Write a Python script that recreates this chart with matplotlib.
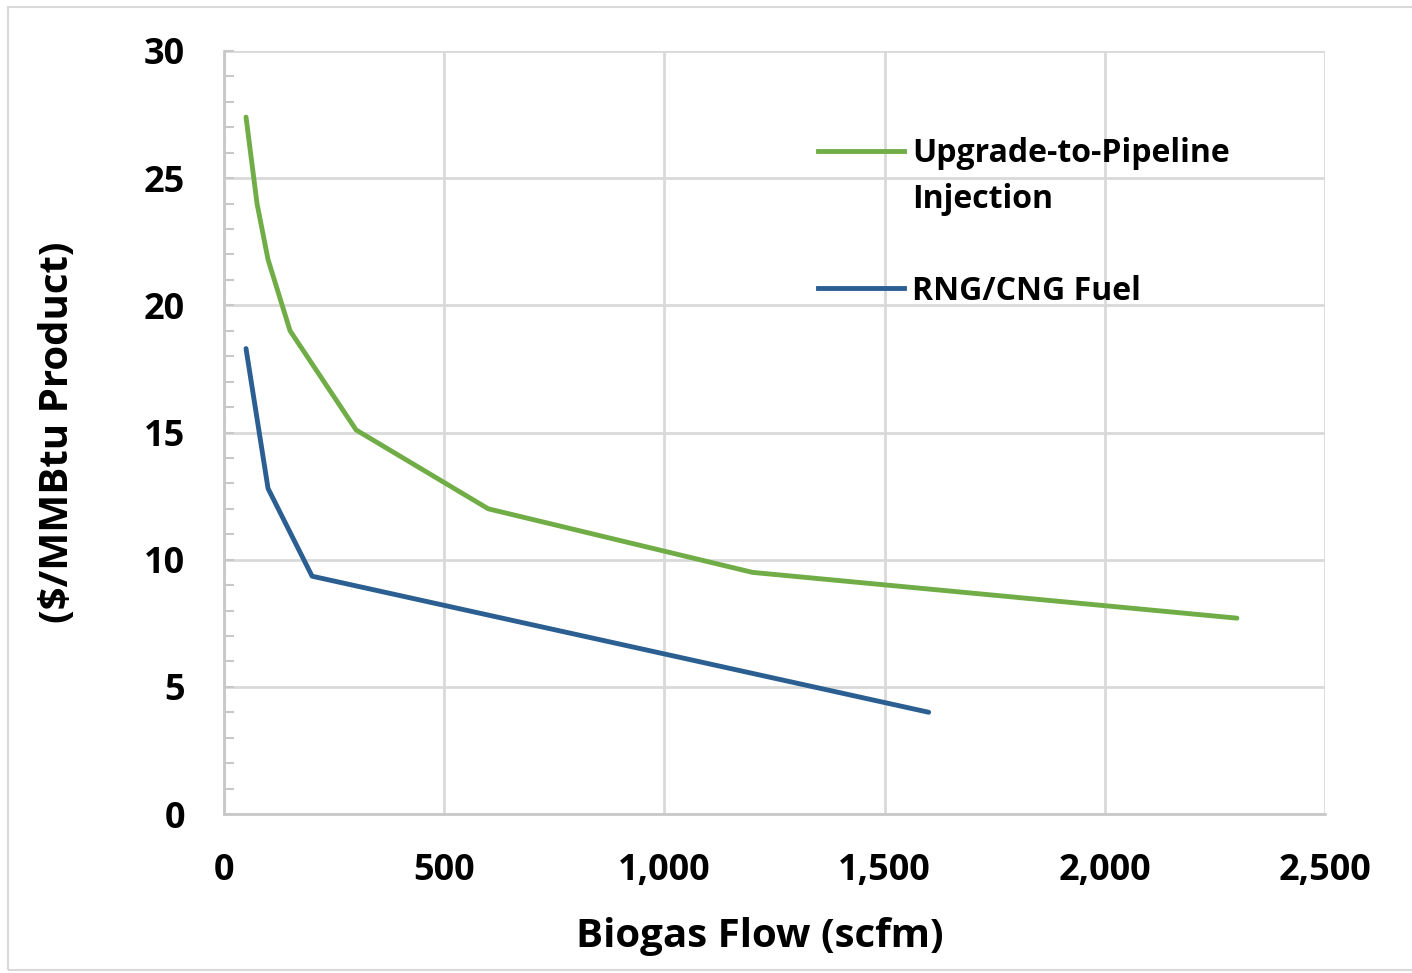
import numpy as np
import matplotlib.pyplot as plt
from matplotlib.lines import Line2D
from matplotlib.patches import Rectangle
from matplotlib.ticker import MultipleLocator, FuncFormatter

# data
pipe_x = [50, 75, 100, 150, 300, 600, 1200, 2300]
pipe_y = [27.4, 24.0, 21.8, 19.0, 15.1, 12.0, 9.5, 7.7]
rng_x = [50, 100, 200, 1600]
rng_y = [18.3, 12.8, 9.35, 4.0]

green = '#70AD47'
blue = '#2B5F91'
grid = '#D9D9D9'

plt.rcParams['font.family'] = ['Open Sans', 'DejaVu Sans']
plt.rcParams['font.weight'] = 'bold'

fig = plt.figure(figsize=(14.12, 9.73), dpi=100)
ax = fig.add_axes([224/1412, 1-814/973, (1325-224)/1412, (814-51)/973])

fig.patches.append(Rectangle((8/1412, 3/973), 1, 1-10/973, transform=fig.transFigure,
                             fill=False, edgecolor=grid, linewidth=1.5))

ax.plot(pipe_x, pipe_y, color=green, lw=3.5, solid_capstyle='round')
ax.plot(rng_x, rng_y, color=blue, lw=3.5, solid_capstyle='round')

ax.set_xlim(0, 2500)
ax.set_ylim(0, 30)
ax.xaxis.set_major_locator(MultipleLocator(500))
ax.yaxis.set_major_locator(MultipleLocator(5))
ax.yaxis.set_minor_locator(MultipleLocator(1))
ax.xaxis.set_major_formatter(FuncFormatter(lambda v, p: f'{v:,.0f}'))

ax.grid(True, which='major', color=grid, lw=2)
ax.set_axisbelow(True)
for s in ['top', 'right']:
    ax.spines[s].set_visible(False)
for s in ['left', 'bottom']:
    ax.spines[s].set_color('#C8C8C8')
    ax.spines[s].set_linewidth(2)

ax.tick_params(axis='x', length=0, pad=28, labelsize=26)
ax.tick_params(axis='y', which='major', direction='in', length=7, width=1.5,
               color='#C8C8C8', pad=28, labelsize=26)
ax.tick_params(axis='y', which='minor', direction='in', length=7, width=1.5,
               color='#C8C8C8')
for lab in ax.get_xticklabels() + ax.get_yticklabels():
    lab.set_fontweight('bold')

ax.set_xlabel('Biogas Flow (scfm)', fontsize=29, fontweight='bold', labelpad=20)
ax.xaxis.label.set_x(0.487)
ax.set_ylabel('($/MMBtu Product)', fontsize=29, fontweight='bold', labelpad=48)

handles = [Line2D([], [], color=green, lw=3.5),
           Line2D([], [], color='none'),
           Line2D([], [], color='none'),
           Line2D([], [], color=blue, lw=3.5)]
labels = ['Upgrade-to-Pipeline', 'Injection', ' ', 'RNG/CNG Fuel']
leg = ax.legend(handles, labels, loc='upper left', bbox_to_anchor=(0.525, 0.908),
                frameon=False, fontsize=23, handlelength=2.7, handletextpad=0.25,
                labelspacing=0.40, borderpad=0)
for t in leg.get_texts():
    t.set_fontweight('bold')

plt.savefig('out.png', dpi=100)
